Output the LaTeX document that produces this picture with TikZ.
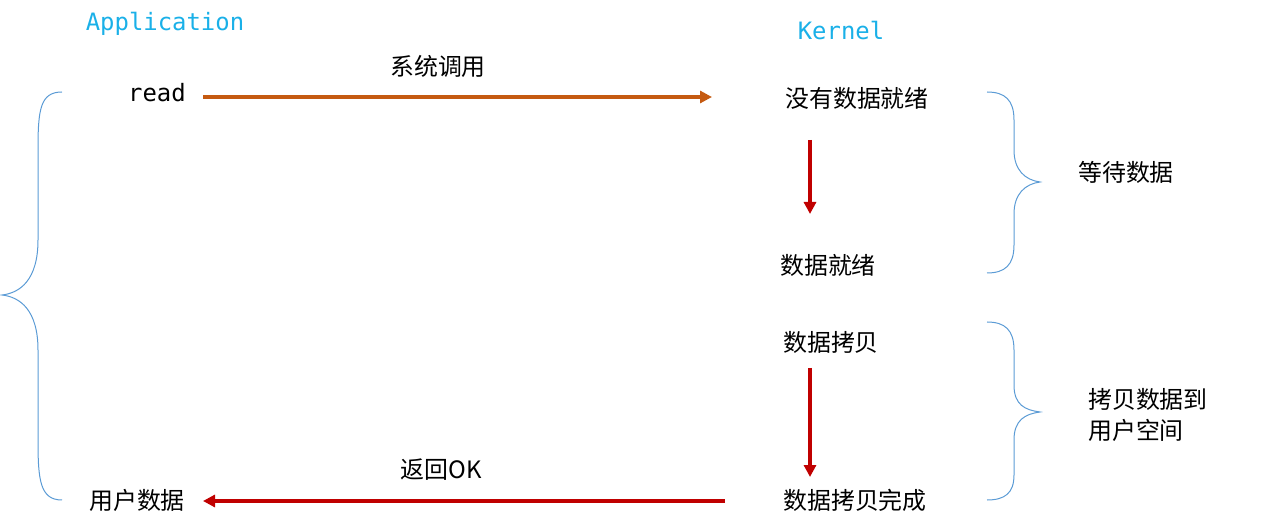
\documentclass[tikz,border=0pt]{standalone}
\usepackage{fontspec}
\setmonofont{DejaVu Sans Mono}
\newfontfamily\cjk{Noto Sans CJK SC}
\usetikzlibrary{arrows.meta}
\definecolor{cyanT}{HTML}{1AB0E8}
\definecolor{orangeA}{HTML}{C55A11}
\definecolor{redA}{HTML}{C00000}
\definecolor{braceC}{HTML}{5B9BD5}
\begin{document}
\begin{tikzpicture}[x=1bp,y=-1bp,
  lbl/.style={font=\cjk\fontsize{24}{28}\selectfont,inner sep=0pt},
  mono/.style={font=\ttfamily\fontsize{24}{28}\selectfont,inner sep=0pt},
  arr/.style={line width=3.5bp,-{Triangle[length=12bp,width=12bp]}},
  br/.style={braceC,line width=1bp}]
\useasboundingbox (0,0) rectangle (1265,530);
\node[mono,cyanT] (app) at (165,24) {Application};
\node[mono,cyanT] (ker) at (841,31) {Kernel};
\node[mono] (read) at (157,93) {read};
\node[lbl] (k1) at (857,98) {没有数据就绪};
\node[lbl] (k2) at (828,265) {数据就绪};
\node[lbl] (k3) at (831,342) {数据拷贝};
\node[lbl] (k4) at (855,500) {数据拷贝完成};
\node[lbl] (ud) at (137,500) {用户数据};
\node[lbl] (l1) at (438,66) {系统调用};
\node[lbl] (l2) at (441,470) {返回OK};
\node[lbl] (w) at (1126,172) {等待数据};
\node[lbl,align=left] (c) at (1148,415) {拷贝数据到\\[4bp]用户空间};
\coordinate (a1s) at (203,97); \coordinate (a1e) at (712,97);
\draw[arr,orangeA] (a1s) -- (a1e);
\coordinate (a2s) at (810,140); \coordinate (a2e) at (810,214);
\draw[arr,redA] (a2s) -- (a2e);
\coordinate (a3s) at (810,368); \coordinate (a3e) at (810,477);
\draw[arr,redA] (a3s) -- (a3e);
\coordinate (a4s) at (725,501); \coordinate (a4e) at (203,501);
\draw[arr,redA] (a4s) -- (a4e);
% left brace
\draw[br] (62,92) .. controls (40,92) and (38,110) .. (38,150) -- (38,240)
  .. controls (38,280) and (20,293) .. (2,295)
  .. controls (20,297) and (38,310) .. (38,350) -- (38,440)
  .. controls (38,480) and (40,500) .. (62,500);
% right braces
\draw[br] (987,92) .. controls (1005,92) and (1014,100) .. (1014,120) -- (1014,150)
  .. controls (1014,170) and (1025,180) .. (1040,182)
  .. controls (1025,184) and (1014,194) .. (1014,214) -- (1014,245)
  .. controls (1014,265) and (1005,273) .. (987,273);
\draw[br] (987,322) .. controls (1005,322) and (1014,330) .. (1014,350) -- (1014,385)
  .. controls (1014,405) and (1025,410) .. (1040,412)
  .. controls (1025,414) and (1014,420) .. (1014,440) -- (1014,475)
  .. controls (1014,493) and (1005,500) .. (987,500);
\end{tikzpicture}
\end{document}
